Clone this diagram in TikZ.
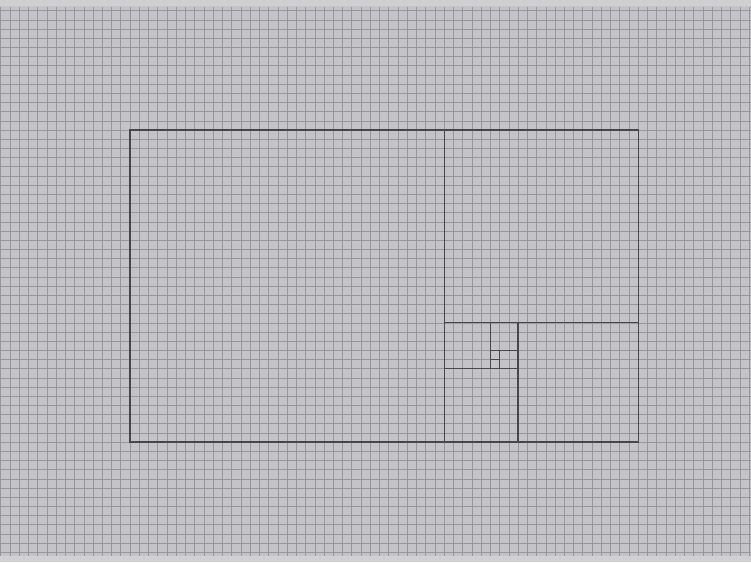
\documentclass[tikz,border=0pt]{standalone}
\definecolor{paper}{RGB}{196,196,200}
\definecolor{paperedge}{RGB}{208,208,211}
\definecolor{gridc}{RGB}{150,150,156}
\definecolor{pencil}{RGB}{72,72,76}
\tikzset{
  gridline/.style={draw=gridc,line width=0.6pt},
  pencilline/.style={draw=pencil,line width=1.3pt,line join=miter},
}
\begin{document}
\begin{tikzpicture}[x=1pt,y=-1pt]
\useasboundingbox (0,0) rectangle (751,562);
\fill[paper] (0,0) rectangle (751,562);
\fill[paperedge] (0,0) rectangle (751,6);
\fill[paperedge] (0,556) rectangle (751,562);
\begin{scope}[shift={(0.64,1.5)},x=9.24pt,y=-9.18pt]
  \foreach \i in {0,...,81} \draw[gridline] (\i,0.6) -- (\i,60.4);
  \foreach \j in {1,...,60} \draw[gridline] (0,\j) -- (81.2,\j);
  % Fibonacci squares
  \draw[pencilline] (14,14) rectangle (48,48);
  \draw[pencilline] (48,14) rectangle (69,35);
  \draw[pencilline] (56,35) rectangle (69,48);
  \draw[pencilline] (48,40) rectangle (56,48);
  \draw[pencilline] (48,35) rectangle (53,40);
  \draw[pencilline] (53,35) rectangle (56,38);
  \draw[pencilline] (54,38) rectangle (56,40);
  \draw[pencilline] (53,38) rectangle (54,39);
  \draw[pencilline] (53,39) rectangle (54,40);
\end{scope}
\end{tikzpicture}
\end{document}
